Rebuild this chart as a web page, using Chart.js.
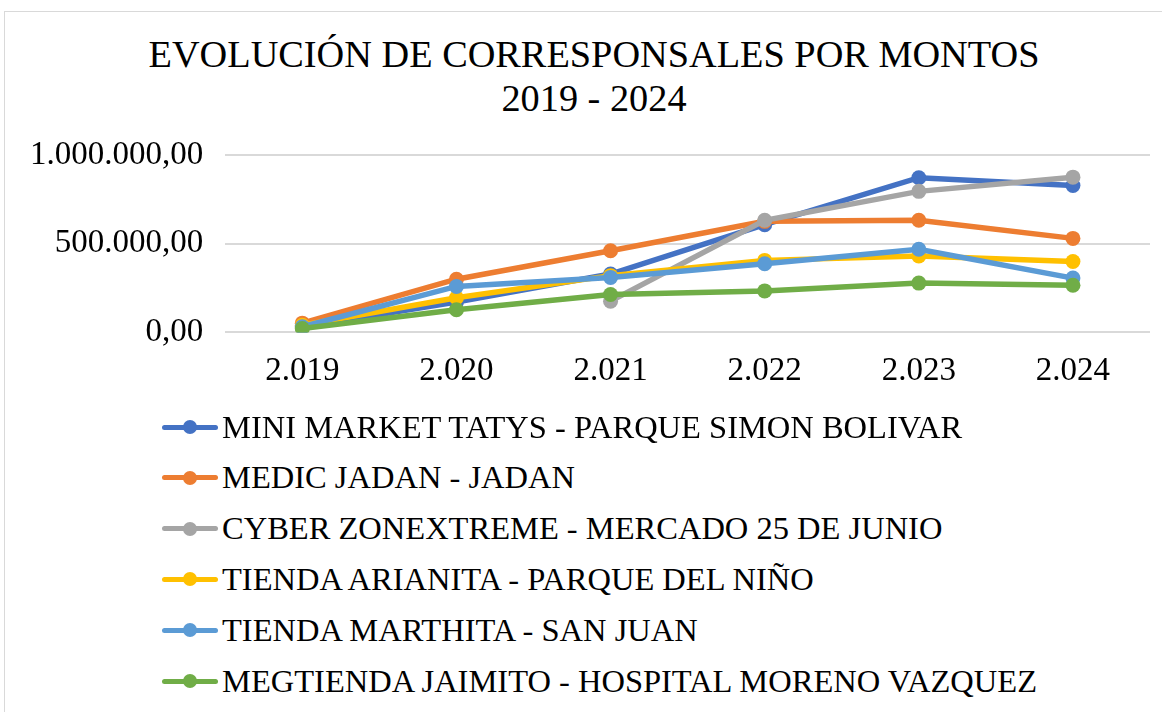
<!DOCTYPE html>
<html>
<head>
<meta charset="utf-8">
<script src="https://cdn.jsdelivr.net/npm/chart.js@4.4.0/dist/chart.umd.min.js"></script>
<style>
  body { margin: 0; background: #fff; font-family: "Liberation Serif", "Times New Roman", serif; overflow: hidden; }
  #frame { position: absolute; left: 4px; top: 11px; width: 1170px; height: 720px; border: 1.5px solid #d9d9d9; }
  #title { position: absolute; left: 0; top: 32px; width: 1188px; text-align: center; font-size: 38.3px; line-height: 44px; color: #000; }
  #wrap { position: absolute; left: 0; top: 0; width: 1162px; height: 410px; }
  #legend { position: absolute; left: 162px; top: 0; }
  .item { position: absolute; left: 0; height: 40px; display: flex; align-items: center; white-space: nowrap; font-size: 32.5px; color: #000; }
  .mk { position: relative; width: 56px; height: 40px; margin-right: 4px; flex: none; }
  .mk .ln { position: absolute; left: 0; right: 0; top: 17.5px; height: 5px; border-radius: 2.5px; }
  .mk .dot { position: absolute; left: 21px; top: 13px; width: 14px; height: 14px; border-radius: 50%; }
</style>
</head>
<body>
<div id="frame"></div>
<div id="title"></div>
<div id="wrap"><canvas id="chart"></canvas></div>
<div id="legend"></div>
<script>
// ------------------------------
// data
// ------------------------------
const titleLines = ["EVOLUCIÓN DE CORRESPONSALES POR MONTOS", "2019 - 2024"];
const years = ["2.019", "2.020", "2.021", "2.022", "2.023", "2.024"];
const yTicks = [0, 500000, 1000000];

const seriesNames = [
  "MINI MARKET TATYS - PARQUE SIMON BOLIVAR",
  "MEDIC JADAN - JADAN",
  "CYBER ZONEXTREME - MERCADO 25 DE JUNIO",
  "TIENDA ARIANITA - PARQUE DEL NIÑO",
  "TIENDA MARTHITA - SAN JUAN",
  "MEGTIENDA JAIMITO - HOSPITAL MORENO VAZQUEZ"
];
const seriesColors = ["#4472C4", "#ED7D31", "#A5A5A5", "#FFC000", "#5B9BD5", "#70AD47"];

const miniMarket = [30000, 171000, 329000, 607000, 872000, 828000];
const medicJadan = [52000, 300000, 460000, 626000, 632000, 530000];
const cyberZone = [null, null, 176000, 632000, 795000, 875000];
const arianita = [40000, 195000, 320000, 406000, 431000, 400000];
const marthita = [32000, 259000, 310000, 387000, 469000, 306000];
const jaimito = [22000, 128000, 214000, 234000, 278000, 266000];

const seriesValues = [miniMarket, medicJadan, cyberZone, arianita, marthita, jaimito];

// 0,00 / 500.000,00 / 1.000.000,00
function fmtMoney(v) {
  const s = Math.round(v).toString().replace(/\B(?=(\d{3})+(?!\d))/g, ".");
  return s + ",00";
}

document.getElementById("title").innerHTML = titleLines.join("<br>");

// ------------------------------
// chart
// ------------------------------
const ctx = document.getElementById("chart");
new Chart(ctx, {
  type: "line",
  data: {
    labels: years,
    datasets: seriesNames.map((name, i) => ({
      label: name,
      data: seriesValues[i],
      borderColor: seriesColors[i],
      backgroundColor: seriesColors[i],
      borderWidth: 5.5,
      pointRadius: 7.5,
      pointHoverRadius: 7.5,
      pointBorderWidth: 0,
      tension: 0,
      order: seriesNames.length - i
    }))
  },
  options: {
    responsive: true,
    maintainAspectRatio: false,
    animation: false,
    layout: { padding: { left: 8, right: 12, top: 155, bottom: 0 } },
    plugins: {
      legend: { display: false },
      tooltip: { enabled: false },
      title: { display: false }
    },
    scales: {
      x: {
        offset: true,
        grid: { display: false, drawTicks: false },
        border: { display: false },
        ticks: { color: "#000", font: { family: "Liberation Serif", size: 33 }, padding: 19 }
      },
      y: {
        min: 0,
        max: 1000000,
        afterBuildTicks: axis => { axis.ticks = yTicks.map(v => ({ value: v })); },
        grid: { color: "#d9d9d9", lineWidth: 2, drawTicks: false },
        border: { display: false },
        ticks: { color: "#000", font: { family: "Liberation Serif", size: 33 }, padding: 22, callback: v => fmtMoney(v) }
      }
    }
  }
});

// ------------------------------
// legend (vertical list under chart)
// ------------------------------
const legend = document.getElementById("legend");
seriesNames.forEach((name, i) => {
  const row = document.createElement("div");
  row.className = "item";
  row.style.top = (407 + i * 50.8) + "px";
  row.innerHTML =
    '<div class="mk"><div class="ln" style="background:' + seriesColors[i] + '"></div>' +
    '<div class="dot" style="background:' + seriesColors[i] + '"></div></div>' +
    '<span>' + name + '</span>';
  legend.appendChild(row);
});
</script>
</body>
</html>
